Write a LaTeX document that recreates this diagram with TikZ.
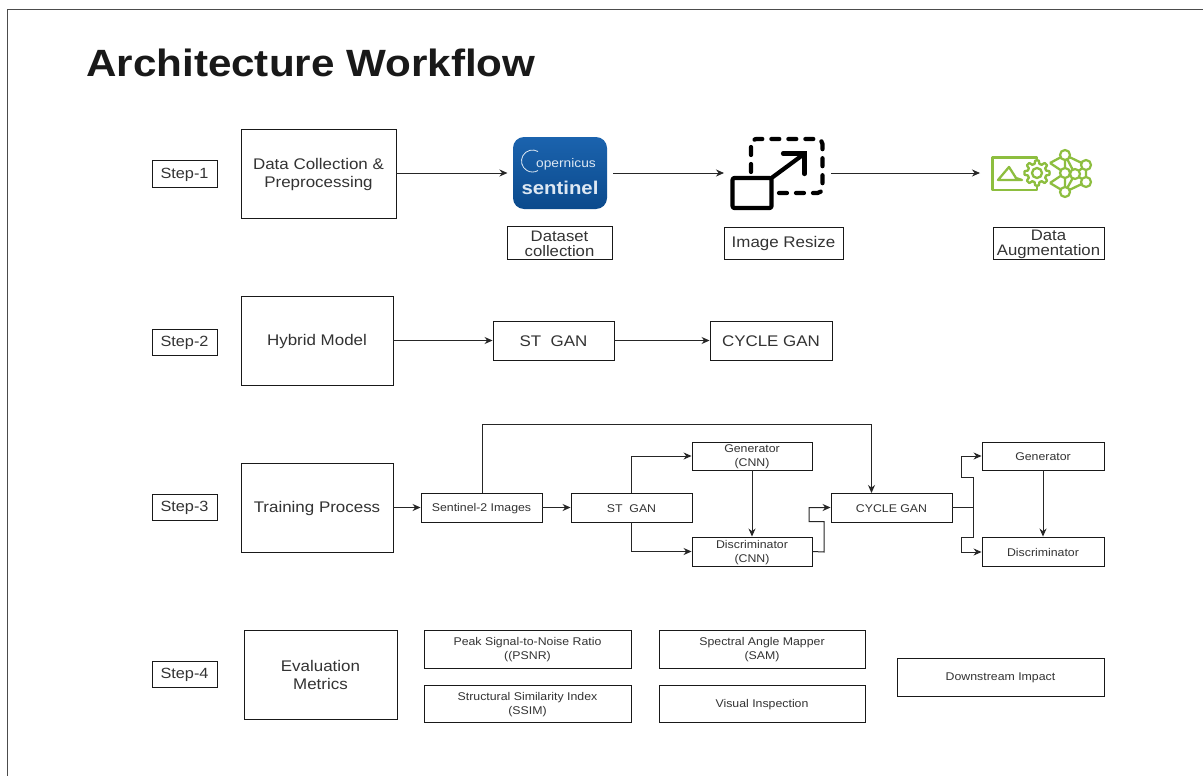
\documentclass[tikz,border=0pt]{standalone}
\usepackage{fontspec}
\setmainfont[FakeStretch=1.1]{Liberation Sans}
\newfontfamily\titlefont[FakeStretch=1.11]{Liberation Sans}
\usetikzlibrary{arrows.meta,calc}
\definecolor{ink}{HTML}{333333}
\definecolor{leaf}{HTML}{8DBE3F}
\definecolor{skyA}{HTML}{0B4A8C}
\definecolor{skyB}{HTML}{1B63AE}
\tikzset{
  frame/.style={draw=black!90,line width=0.9pt,text=ink,inner sep=1pt,align=center},
  big/.style={frame,font=\fontsize{15.4}{18}\selectfont},
  tight/.style={frame,inner ysep=0pt,font=\fontsize{15.2}{15.5}\selectfont},
  mid/.style={frame,font=\fontsize{14.8}{17}\selectfont},
  small/.style={frame,font=\fontsize{11.2}{14}\selectfont},
  link/.style={draw=black!85,line width=1pt,-{Stealth[length=8pt,width=7pt]}},
  plain/.style={draw=black!85,line width=1pt},
  icon/.style={draw=black,line width=4.2pt,line cap=round,line join=round},
  aug/.style={draw=leaf,line width=2.3pt,line join=round},
  dot/.style={circle,draw=leaf,line width=2.2pt,fill=white,minimum size=10pt,inner sep=0pt}
}
\newcommand{\mybox}[7]{\node[#6,minimum width={(#4-#2)*1pt},minimum height={(#5-#3)*1pt}] (#1) at ({(#2+#4)/2},{(#3+#5)/2}) {\rule{0pt}{0.85em}#7};}
\begin{document}
\begin{tikzpicture}[x=1pt,y=-1pt]
\useasboundingbox (0,0) rectangle (1203,776);
\fill[white] (0,0) rectangle (1203,776);
\coordinate (bl) at (7,776);
\coordinate (tl) at (7,9);
\coordinate (tr) at (1203,9);
\draw[black!70,line width=0.7pt] (bl) -- (tl) -- (tr);
\node[anchor=west,inner sep=0pt,font=\fontsize{38}{42}\titlefont\bfseries,text=black!90] (title) at (86,63) {Architecture Workflow};
% Step 1
\mybox{s1}{152}{160}{217}{187}{mid}{Step-1}
\mybox{data}{241}{129}{396}{218}{big}{Data Collection \&\\Preprocessing}
\node[rounded corners=11pt,top color=skyB,bottom color=skyA,minimum width=94pt,minimum height=72pt,inner sep=0pt] (logo) at (560,173) {};
\draw[white!85!skyB,line width=0.8pt] (538,151.5) arc[start angle=60,end angle=300,radius=11pt];
\node[text=white!85!skyB,inner sep=0pt,font=\fontsize{12.5}{13}\selectfont] (logoa) at (566,164.5) {opernicus};
\node[text=white!85!skyB,inner sep=0pt,font=\fontsize{18.5}{19}\bfseries\selectfont] (logob) at (560,188) {sentinel};
\mybox{dsc}{507}{226}{612}{259}{tight}{Dataset\\collection}
\mybox{res}{724}{227}{843}{259}{big}{Image Resize}
\mybox{dau}{993}{227}{1104}{259}{tight}{Data\\Augmentation}
% resize icon
\coordinate (rsz) at (724,173);
\draw[icon,dash pattern=on 8pt off 9pt,rounded corners=5pt] (751,172) -- (751,139) -- (822.5,139) -- (822.5,193) -- (776,193);
\draw[icon,fill=white,rounded corners=2pt] (732.5,178) rectangle (771.5,208);
\draw[icon,line cap=butt] (771.5,178) -- (804,154);
\draw[icon,line join=miter] (783,153.5) -- (804.5,153.5) -- (804.5,174);
\coordinate (rszr) at (831,173);
% augmentation icon
\coordinate (augl) at (980,173);
\draw[aug] (1037,163) -- (1037,157.5) -- (992.5,157.5) -- (992.5,190) -- (1037,190) -- (1037,186);
\draw[aug] (998,180) -- (1009,167) -- (1016,178) -- (1022,180) -- cycle;
\coordinate (n1) at (1065,155);
\coordinate (n2) at (1065,173);
\coordinate (n3) at (1065,192);
\coordinate (n4) at (1086,165);
\coordinate (n5) at (1086,182);
\coordinate (n6) at (1075,174);
\coordinate (n7) at (1050,163);
\coordinate (n8) at (1050,183);
\draw[aug] (n1)--(n2)--(n3) (n1)--(n4)--(n5)--(n3) (n1)--(n6)--(n3) (n2)--(n6)--(n4) (n6)--(n5) (n7)--(n1) (n8)--(n3) (n7)--(n2)--(n8);
\draw[aug,fill=white,shift={(1037,173)}] plot[domain=0:360,samples=145] (\x:{11+1.6*min(max(2.2*cos(8*\x),-1),1)}) -- cycle;
\draw[aug] (1037,173) circle[radius=5pt];
\foreach \p in {n1,n2,n3,n4,n5,n6}{\node[dot] at (\p) {};}
\draw[link] (data.east |- logo.west) -- ++(111,0) ;
\draw[link] (logo.east) ++(6,0) -- (rsz);
\draw[link] (rszr) -- (augl);
% Step 2
\mybox{s2}{152}{329}{217}{355}{mid}{Step-2}
\mybox{hyb}{241}{296}{393}{385}{big}{Hybrid Model}
\mybox{st1}{493}{321}{614}{360}{big}{ST\ \ GAN}
\mybox{cy1}{710}{321}{832}{360}{big}{CYCLE GAN}
\draw[link] (hyb.east) -- (st1.west);
\draw[link] (st1.east) -- (cy1.west);
% Step 3
\mybox{s3}{152}{494}{217}{520}{mid}{Step-3}
\mybox{trn}{241}{463}{393}{552}{big}{Training Process}
\mybox{sen}{421}{493}{542}{522}{small}{Sentinel-2 Images}
\mybox{st2}{571}{493}{692}{522}{small}{ST\ \ GAN}
\mybox{gc}{692}{442}{812}{470}{small}{Generator\\(CNN)}
\mybox{dc}{692}{537}{812}{566}{small}{Discriminator\\(CNN)}
\mybox{cy2}{831}{493}{952}{522}{small}{CYCLE GAN}
\mybox{gn}{982}{442}{1104}{470}{small}{Generator}
\mybox{dn}{982}{537}{1104}{566}{small}{Discriminator}
\coordinate (cin) at (871.5,493);
\coordinate (hi1) at (482,424);
\coordinate (hi2) at (871.5,424);
\coordinate (j1) at (824,552);
\coordinate (j2) at (824,521.5);
\coordinate (j3) at (809,521.5);
\coordinate (j4) at (809,507.5);
\coordinate (k1) at (973.5,507.5);
\coordinate (k2) at (973.5,477);
\coordinate (k3) at (961,477);
\coordinate (k4) at (961,456);
\coordinate (k5) at (973.5,537);
\coordinate (k6) at (961,537);
\coordinate (k7) at (961,552);
\draw[link] (trn.east |- sen.west) -- (sen.west);
\draw[link] (sen.east) -- (st2.west);
\draw[link] (sen.north -| hi1) -- (hi1) -- (hi2) -- (cin);
\draw[link] (st2.north) |- (gc.west);
\draw[link] (st2.south) |- (dc.west);
\draw[link] (gc.south) -- (dc.north);
\draw[link] (dc.east) -- (j1) -- (j2) -- (j3) -- (j4) -- (cy2.west);
\draw[plain] (cy2.east) -- (k1);
\draw[link] (k5) -- (k2) -- (k3) -- (k4) -- (k4 -| gn.west);
\draw[link] (k5) -- (k6) -- (k7) -- (k7 -| dn.west);
\draw[link] (gn.south) -- (dn.north);
% Step 4
\mybox{s4}{152}{661}{217}{687}{mid}{Step-4}
\mybox{ev}{244}{630}{397}{719}{big}{Evaluation\\Metrics}
\mybox{m1}{424}{630}{631}{668}{small}{Peak Signal-to-Noise Ratio\\((PSNR)}
\mybox{m2}{424}{685}{631}{722}{small}{Structural Similarity Index\\(SSIM)}
\mybox{m3}{659}{630}{865}{668}{small}{Spectral Angle Mapper\\(SAM)}
\mybox{m4}{659}{685}{865}{722}{small}{Visual Inspection}
\mybox{m5}{897}{658}{1104}{696}{small}{Downstream Impact}
\end{tikzpicture}
\end{document}
